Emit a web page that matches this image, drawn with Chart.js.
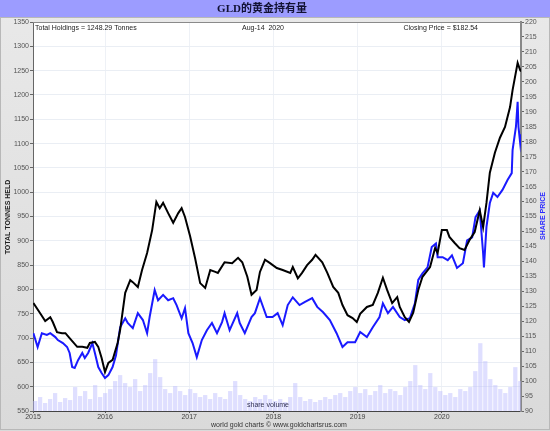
<!DOCTYPE html>
<html>
<head>
<meta charset="utf-8">
<script src="https://cdn.jsdelivr.net/npm/chart.js@4/dist/chart.umd.min.js"></script>
<style>
  html, body { margin: 0; padding: 0; background: #e2e2e2; }
  canvas { display: block; }
</style>
</head>
<body>
<canvas id="gld" width="550" height="431"></canvas>
<script>
// GLD holdings (tonnes, left axis) and share price ($, right axis)
const holdYears = [2015.15, 2015.23, 2015.29, 2015.35, 2015.38, 2015.43, 2015.49, 2015.53, 2015.58, 2015.67,
  2015.73, 2015.79, 2015.82, 2015.88, 2015.92, 2015.96, 2016.00, 2016.04, 2016.09, 2016.15,
  2016.18, 2016.24, 2016.30, 2016.33, 2016.39, 2016.44, 2016.50, 2016.56, 2016.61, 2016.65,
  2016.69, 2016.75, 2016.81, 2016.87, 2016.91, 2016.95, 2017.01, 2017.07, 2017.13, 2017.19,
  2017.25, 2017.31, 2017.34, 2017.42, 2017.51, 2017.58, 2017.63, 2017.69, 2017.74, 2017.80,
  2017.84, 2017.90, 2017.96, 2018.04, 2018.11, 2018.20, 2018.23, 2018.29, 2018.34, 2018.40,
  2018.46, 2018.50, 2018.58, 2018.64, 2018.71, 2018.77, 2018.82, 2018.88, 2018.94, 2018.99,
  2019.03, 2019.11, 2019.18, 2019.24, 2019.30, 2019.35, 2019.41, 2019.47, 2019.50, 2019.56,
  2019.61, 2019.66, 2019.72, 2019.77, 2019.86, 2019.92, 2019.95, 2020.00, 2020.06, 2020.09,
  2020.15, 2020.21, 2020.27, 2020.33, 2020.39, 2020.45, 2020.49, 2020.53, 2020.57, 2020.63,
  2020.69, 2020.75, 2020.81, 2020.84, 2020.90, 2020.93, 2020.94];
const holdTonnes = [772, 751, 735, 743, 733, 712, 710, 710, 700, 682,
  682, 680, 690, 692, 682, 659, 630, 649, 655, 690,
  717, 793, 819, 815, 805, 840, 875, 922, 980, 967,
  978, 957, 937, 957, 967, 949, 910, 864, 813, 803,
  840, 836, 834, 856, 854, 865, 856, 826, 789, 799,
  836, 861, 854, 844, 840, 834, 846, 823, 834, 850,
  861, 871, 856, 834, 805, 793, 768, 747, 741, 733,
  750, 764, 768, 793, 824, 799, 772, 784, 764, 743,
  733, 752, 799, 826, 846, 885, 875, 922, 922, 908,
  896, 885, 881, 902, 918, 963, 928, 978, 1040, 1081,
  1112, 1134, 1175, 1210, 1266, 1251, 1248];

const priceYears = [2015.15, 2015.20, 2015.25, 2015.31, 2015.35, 2015.41, 2015.44, 2015.50, 2015.55, 2015.58,
  2015.61, 2015.64, 2015.68, 2015.73, 2015.76, 2015.80, 2015.85, 2015.88, 2015.92, 2015.96,
  2016.00, 2016.04, 2016.09, 2016.13, 2016.18, 2016.24, 2016.27, 2016.33, 2016.39, 2016.45,
  2016.50, 2016.53, 2016.59, 2016.63, 2016.69, 2016.75, 2016.81, 2016.85, 2016.91, 2016.95,
  2016.99, 2017.04, 2017.09, 2017.15, 2017.21, 2017.27, 2017.33, 2017.39, 2017.42, 2017.48,
  2017.57, 2017.60, 2017.66, 2017.74, 2017.78, 2017.84, 2017.92, 2017.99, 2018.05, 2018.11,
  2018.17, 2018.23, 2018.31, 2018.37, 2018.46, 2018.52, 2018.59, 2018.67, 2018.75, 2018.82,
  2018.88, 2018.97, 2019.03, 2019.11, 2019.18, 2019.26, 2019.30, 2019.36, 2019.42, 2019.50,
  2019.56, 2019.62, 2019.68, 2019.72, 2019.77, 2019.83, 2019.88, 2019.93, 2019.95, 2020.01,
  2020.07, 2020.12, 2020.18, 2020.25, 2020.30, 2020.36, 2020.40, 2020.45, 2020.49, 2020.50,
  2020.53, 2020.57, 2020.61, 2020.66, 2020.72, 2020.78, 2020.83, 2020.84, 2020.88, 2020.90,
  2020.91, 2020.93, 2020.94];
const priceValues = [116, 111.4, 116, 115.4, 116, 114.7, 113.7, 112.7, 111.4, 109.4,
  104.7, 104.4, 107, 109.4, 107.7, 109.4, 112.7, 109.4, 104.7, 102.7,
  101, 102, 104.7, 108.5, 118, 121, 119.4, 117.7, 122.7, 120.4,
  116, 121.4, 130.4, 127, 128.8, 127, 127.7, 125.4, 121, 124.4,
  116, 112.7, 108, 113.7, 117, 119.4, 116, 119.7, 122.7, 117,
  122.7, 119.4, 116, 121.4, 122.7, 127.7, 121.4, 121.4, 122.7, 118.7,
  125.4, 128, 125.4, 126.4, 127.7, 124.8, 123, 120.4, 116, 111.4,
  113, 113, 116.4, 114.7, 118, 121.4, 126, 122.7, 124.8, 121.4,
  120.4, 121, 126, 133.8, 136, 138, 144.8, 146, 141.4, 141.4,
  140.4, 142, 137.8, 139.4, 147, 148, 154.8, 157, 142.8, 138,
  151.5, 159.5, 162.9, 161.5, 163.9, 167.2, 169.5, 177.2, 185, 193.3,
  185, 179.6, 182.5];

// share volume (millions of shares), roughly three-week buckets from early 2015
const volStart = 2015.17;
const volStep = 0.0594;
const volumeM = [5, 7, 4, 6, 9, 4.5, 6.5, 5.5, 12, 7.5,
  10, 6, 13, 7, 9, 11, 15, 18, 14, 12,
  16, 10, 13, 19, 26, 17, 11, 9, 12.5, 10,
  8, 11, 9, 7, 8, 6, 9, 7, 6, 10,
  15, 8, 6, 5, 7, 6, 8, 6, 5, 6,
  4.5, 7, 14, 7, 5, 6, 4.5, 5.5, 7, 6,
  8, 9, 7, 10, 12, 9, 11, 8, 10, 13,
  9, 11, 10, 8, 12, 15, 23, 13, 11, 19,
  12, 10, 8, 9, 7, 11, 10, 12, 20, 34,
  25, 16, 13, 11, 9, 12, 22, 15];

const xMin = 2015.145;
const xMax = 2020.94;
const yearTicks = [xMin, 2016, 2017, 2018, 2019, 2020];
const yearLabels = ['2015', '2016', '2017', '2018', '2019', '2020'];

const FONT = '"Liberation Sans", Arial, sans-serif';

const frame = {
  id: 'frame',
  beforeDraw(chart) {
    const { ctx, chartArea: a, width, height } = chart;
    ctx.save();
    const g = ctx.createLinearGradient(0, 0, 0, height);
    g.addColorStop(0, '#e9e9e9');
    g.addColorStop(1, '#dadada');
    ctx.fillStyle = g;
    ctx.fillRect(0, 0, width, height);
    ctx.strokeStyle = '#b8b8b8';
    ctx.lineWidth = 1;
    ctx.strokeRect(0.5, 17.5, width - 1, height - 19);
    // title bar
    ctx.fillStyle = '#9c9cff';
    ctx.fillRect(0, 0, width, 17);
    ctx.fillStyle = '#111133';
    ctx.font = 'bold 11px "Liberation Serif", "Noto Sans CJK SC", serif';
    ctx.textAlign = 'center';
    ctx.textBaseline = 'middle';
    ctx.fillText('GLD的黄金持有量', 262, 9);
    // plot background
    ctx.fillStyle = '#ffffff';
    ctx.fillRect(a.left, a.top, a.right - a.left, a.bottom - a.top);
    ctx.restore();
  },
  afterDraw(chart) {
    const { ctx, chartArea: a } = chart;
    ctx.save();
    ctx.strokeStyle = '#8a8a8a';
    ctx.lineWidth = 1;
    ctx.beginPath();
    ctx.moveTo(a.left, a.top + 0.5);
    ctx.lineTo(a.right, a.top + 0.5);
    ctx.stroke();
    ctx.fillStyle = '#222';
    ctx.font = '7px ' + FONT;
    ctx.textBaseline = 'middle';
    ctx.textAlign = 'left';
    ctx.fillText('Total Holdings = 1248.29 Tonnes', 35, 28);
    ctx.textAlign = 'center';
    ctx.fillText('Aug-14  2020', 263, 28);
    ctx.textAlign = 'right';
    ctx.fillText('Closing Price = $182.54', 478, 28);
    ctx.textAlign = 'center';
    ctx.fillStyle = '#333355';
    ctx.fillText('share volume', 268, 405);
    ctx.fillStyle = '#333';
    ctx.fillText('world gold charts \u00a9 www.goldchartsrus.com', 279, 425);
    // axis titles
    ctx.font = 'bold 7px ' + FONT;
    ctx.fillStyle = '#222';
    ctx.translate(8, 217);
    ctx.rotate(-Math.PI / 2);
    ctx.fillText('TOTAL TONNES HELD', 0, 0);
    ctx.rotate(Math.PI / 2);
    ctx.translate(-8, -217);
    ctx.fillStyle = '#2a2aff';
    ctx.translate(543, 216);
    ctx.rotate(-Math.PI / 2);
    ctx.fillText('SHARE PRICE', 0, 0);
    ctx.restore();
  }
};

new Chart(document.getElementById('gld'), {
  type: 'line',
  data: {
    datasets: [
      {
        label: 'Total tonnes held',
        data: holdYears.map((x, i) => ({ x: x, y: holdTonnes[i] })),
        yAxisID: 'y',
        borderColor: '#000000',
        borderWidth: 2,
        pointRadius: 0,
        tension: 0,
        order: 1
      },
      {
        label: 'Share price',
        data: priceYears.map((x, i) => ({ x: x, y: priceValues[i] })),
        yAxisID: 'y1',
        borderColor: '#1a1aff',
        borderWidth: 2,
        pointRadius: 0,
        tension: 0,
        order: 2
      },
      {
        type: 'bar',
        label: 'share volume',
        data: volumeM.map((v, i) => ({ x: volStart + i * volStep, y: v })),
        yAxisID: 'yv',
        backgroundColor: 'rgba(185, 185, 255, 0.45)',
        borderWidth: 0,
        barPercentage: 0.85,
        categoryPercentage: 1,
        order: 3
      }
    ]
  },
  options: {
    responsive: false,
    animation: false,
    devicePixelRatio: 1,
    layout: { padding: { top: 22, left: 0, right: 0, bottom: 0 } },
    plugins: { legend: { display: false }, tooltip: { enabled: false } },
    scales: {
      x: {
        type: 'linear',
        offset: false,
        min: xMin,
        max: xMax,
        afterBuildTicks: (scale) => { scale.ticks = yearTicks.map(v => ({ value: v })); },
        afterFit: (scale) => { scale.height = 20; },
        ticks: {
          callback: (v, i) => yearLabels[i],
          font: { size: 7, family: FONT },
          color: '#444',
          padding: 0,
          maxRotation: 0,
          autoSkip: false
        },
        grid: { offset: false, color: '#eef1f6', tickColor: '#555', tickLength: 2 },
        border: { color: '#444', width: 1 }
      },
      y: {
        position: 'left',
        min: 550,
        max: 1350,
        afterFit: (scale) => { scale.width = 33; },
        ticks: {
          stepSize: 50,
          autoSkip: false,
          callback: (v) => String(v),
          font: { size: 7, family: FONT },
          color: '#555',
          padding: 1
        },
        grid: { color: '#eaeef4', tickColor: '#666', tickLength: 3 },
        border: { color: '#666', width: 1 }
      },
      y1: {
        position: 'right',
        min: 90,
        max: 220,
        afterFit: (scale) => { scale.width = 29; },
        ticks: {
          stepSize: 5,
          autoSkip: false,
          callback: (v) => String(v),
          font: { size: 7, family: FONT },
          color: '#555',
          padding: 1
        },
        grid: { drawOnChartArea: false, tickColor: '#666', tickLength: 3 },
        border: { color: '#888', width: 2 }
      },
      yv: {
        display: false,
        min: 0,
        max: 195
      }
    }
  },
  plugins: [frame]
});
</script>
</body>
</html>
